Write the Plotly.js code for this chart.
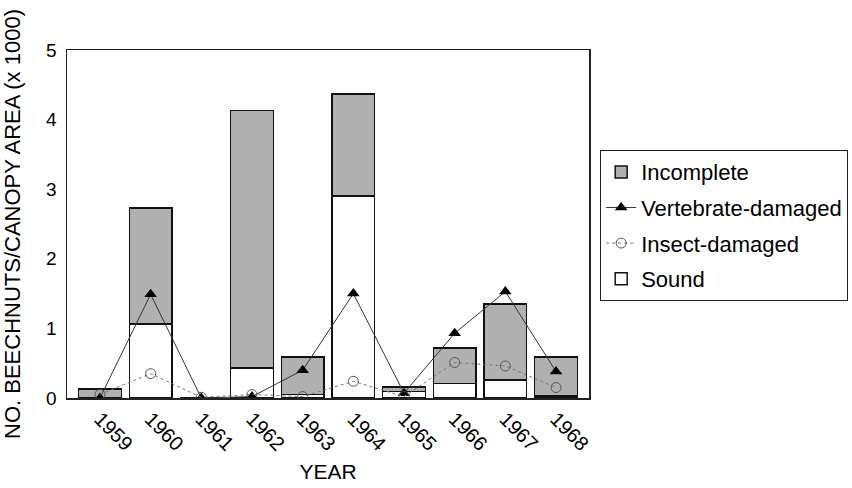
<!DOCTYPE html>
<html>
<head>
<meta charset="utf-8">
<script src="https://cdn.plot.ly/plotly-3.0.1.min.js"></script>
<style>html,body{margin:0;padding:0;background:#fff}#chart{width:852px;height:488px}</style>
</head>
<body>
<div id="chart"></div>
<script>
const years = ['1959','1960','1961','1962','1963','1964','1965','1966','1967','1968'];
const sound = [0.00, 1.06, 0.00, 0.43, 0.05, 2.90, 0.09, 0.21, 0.26, 0.03];
const incomplete = [0.13, 1.67, 0.00, 3.70, 0.54, 1.47, 0.07, 0.51, 1.09, 0.56];
const vertebrate = [0.00, 1.49, 0.00, 0.02, 0.40, 1.50, 0.07, 0.93, 1.53, 0.38];
const insect = [0.05, 0.35, 0.01, 0.05, 0.02, 0.24, 0.02, 0.51, 0.46, 0.15];

const FONT = 'Liberation Sans, Arial, Helvetica, sans-serif';

const traces = [
  {type:'bar', name:'Sound', x:years, y:sound, legendgroup:'s', legendrank:4,
   marker:{color:'#ffffff', line:{color:'#111', width:1.5}}},
  {type:'bar', name:'Incomplete', x:years, y:incomplete, legendgroup:'i', legendrank:1,
   marker:{color:'#b0b0b0', line:{color:'#111', width:1.5}}},
  {type:'scatter', mode:'lines+markers', name:'Vertebrate-damaged', x:years, y:vertebrate,
   legendgroup:'v', legendrank:2,
   line:{color:'#333', width:1}, marker:{symbol:'triangle-up', size:11, color:'#000'}},
  {type:'scatter', mode:'lines+markers', name:'Insect-damaged', x:years, y:insect,
   legendgroup:'d', legendrank:3,
   line:{color:'#777', width:1, dash:'3px,3px'},
   marker:{symbol:'circle-open', size:10, color:'#555', line:{width:1, color:'#555'}}}
];

const layout = {
  width:852, height:488,
  margin:{l:67, r:263, t:50, b:90, autoexpand:false},
  paper_bgcolor:'#fff', plot_bgcolor:'#fff',
  font:{family:FONT, color:'#000', size:19},
  barmode:'stack', bargap:0.16,
  showlegend:true,
  legend:{x:1.021, xanchor:'left', y:0.713, yanchor:'top',
    bordercolor:'#222', borderwidth:1.2, bgcolor:'#fff',
    font:{family:FONT, size:22, color:'#000'},
    traceorder:'grouped', tracegroupgap:4},
  xaxis:{type:'category', tickangle:45, showgrid:false, zeroline:false,
    showline:true, linecolor:'#222', linewidth:1.5, mirror:true, ticks:'',
    tickfont:{family:FONT, size:20},
    title:{text:'YEAR', font:{family:FONT, size:21}, standoff:10}},
  yaxis:{range:[0,5], dtick:1, showgrid:false, zeroline:false,
    showline:true, linecolor:'#222', linewidth:1.5, mirror:true, ticks:'',
    ticklabelstandoff:5,
    tickfont:{family:FONT, size:19},
    title:{text:'NO. BEECHNUTS/CANOPY AREA (x 1000)', font:{family:FONT, size:22}, standoff:19}}
};

Plotly.newPlot('chart', traces, layout, {displayModeBar:false, staticPlot:true});
</script>
</body>
</html>
